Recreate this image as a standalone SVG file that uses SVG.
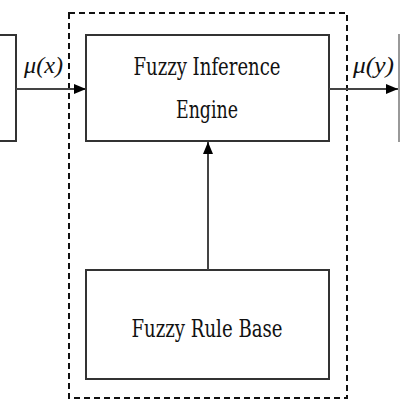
<svg xmlns="http://www.w3.org/2000/svg" width="400" height="400" viewBox="0 0 400 400">
<style>
.box{fill:#fff;stroke:#333;stroke-width:2}
.lbl{font-family:"DejaVu Serif Condensed","DejaVu Serif","Liberation Serif",serif;font-stretch:condensed;font-size:24px;fill:#111;text-anchor:middle}
.math{font-family:"Liberation Serif","Times New Roman",serif;font-size:24px;font-style:italic;fill:#111}
.conn{stroke:#444;stroke-width:2;fill:none}
</style>
<defs>
<marker id="ah" viewBox="0 0 12 10" refX="12" refY="5" markerWidth="12" markerHeight="10" markerUnits="userSpaceOnUse" orient="auto">
<path d="M0,0 L12,5 L0,10 Z" fill="#000"/>
</marker>
</defs>
<rect width="400" height="400" fill="#fff"/>
<g id="boundary">
<rect x="69" y="13" width="278" height="385" fill="none" stroke="#111" stroke-width="2" stroke-dasharray="6,4"/>
</g>
<g id="fuzzifier">
<rect class="box" x="-20" y="35" width="36" height="106"/>
</g>
<g id="defuzzifier">
<rect x="399" y="35" width="10" height="106" fill="#fff" stroke="#999" stroke-width="2"/>
</g>
<g id="engine">
<rect class="box" x="86" y="35" width="243" height="106"/>
<text class="lbl" x="207" y="75" textLength="147" lengthAdjust="spacingAndGlyphs">Fuzzy Inference</text>
<text class="lbl" x="207" y="118" textLength="62" lengthAdjust="spacingAndGlyphs">Engine</text>
</g>
<g id="rulebase">
<rect class="box" x="86" y="270" width="243" height="109"/>
<text class="lbl" x="207" y="337" textLength="151" lengthAdjust="spacingAndGlyphs">Fuzzy Rule Base</text>
</g>
<g id="connectors">
<line class="conn" x1="16" y1="89" x2="86" y2="89" marker-end="url(#ah)"/>
<line class="conn" x1="329" y1="89" x2="398" y2="89" marker-end="url(#ah)"/>
<line class="conn" x1="208" y1="270" x2="208" y2="142" marker-end="url(#ah)"/>
<text class="math" x="24" y="73" textLength="39" lengthAdjust="spacingAndGlyphs">μ(x)</text>
<text class="math" x="353" y="73" textLength="41" lengthAdjust="spacingAndGlyphs">μ(y)</text>
</g>
</svg>
